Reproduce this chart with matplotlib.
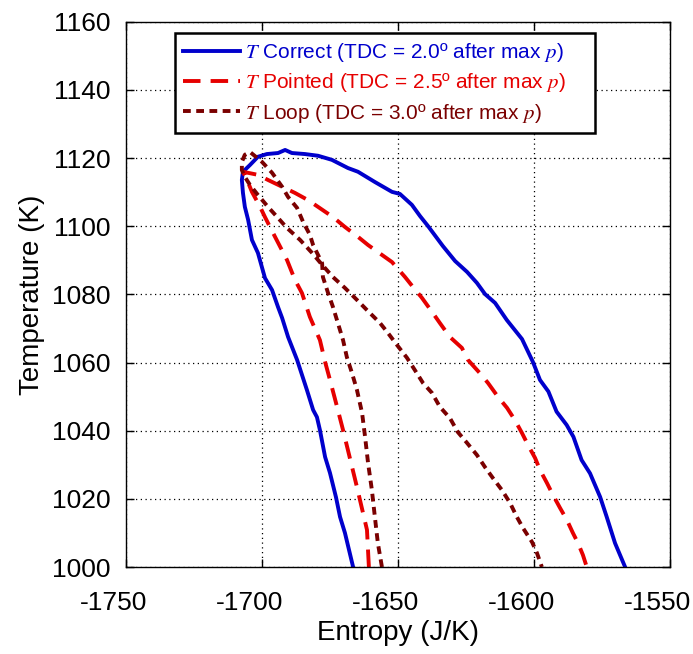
import matplotlib
matplotlib.use('Agg')
from matplotlib import pyplot as plt
from matplotlib.transforms import ScaledTranslation

plt.rcParams['font.family'] = ['Liberation Sans', 'DejaVu Sans']
plt.rcParams['mathtext.fontset'] = 'stix'
plt.rcParams['axes.unicode_minus'] = False

# entropy (J/K) and temperature (K), one loop per case
s_correct = [-1666.5, -1669.5, -1671.3, -1672.8, -1675.0, -1676.8, -1678.7, -1679.8, -1681.2, -1683.5,
             -1687.1, -1690.4, -1692.6, -1694.1, -1696.3, -1698.9, -1701.5, -1703.7, -1705.1, -1706.3,
             -1707.0, -1707.4, -1707.0, -1704.4, -1701.5, -1698.2, -1694.1, -1691.5, -1689.0, -1684.2,
             -1679.4, -1674.3, -1668.4, -1664.7, -1658.5, -1652.2, -1649.3, -1644.9, -1641.9, -1639.0,
             -1633.5, -1629.0, -1624.6, -1621.0, -1618.0, -1614.3, -1610.0, -1604.4, -1600.4, -1597.8,
             -1594.7, -1591.7, -1588.0, -1585.5, -1582.5, -1579.4, -1575.7, -1573.3, -1570.2, -1566.5]
t_correct = [1000.0, 1010.0, 1014.7, 1020.5, 1027.6, 1032.3, 1040.2, 1044.0, 1046.1, 1052.0,
             1060.8, 1067.5, 1073.1, 1076.3, 1081.3, 1084.8, 1092.2, 1096.0, 1101.9, 1105.7,
             1109.8, 1113.6, 1116.0, 1118.0, 1120.4, 1121.2, 1121.5, 1122.4, 1121.5, 1121.2,
             1120.7, 1119.5, 1117.1, 1116.0, 1113.0, 1110.1, 1109.5, 1106.3, 1103.0, 1100.1,
             1094.2, 1089.8, 1086.6, 1083.4, 1080.1, 1077.5, 1072.5, 1066.9, 1060.2, 1054.9,
             1051.5, 1045.6, 1041.7, 1038.2, 1031.4, 1027.5, 1020.6, 1014.8, 1007.0, 1000.0]

s_pointed = [-1660.7, -1661.4, -1665.1, -1668.4, -1670.2, -1672.4, -1675.0, -1676.8, -1678.7, -1682.4,
             -1685.3, -1687.9, -1690.8, -1695.2, -1698.9, -1700.7, -1703.7, -1705.5, -1707.0, -1701.5,
             -1697.8, -1692.6, -1687.9, -1683.1, -1679.4, -1673.9, -1669.5, -1664.7, -1661.0, -1655.9,
             -1652.2, -1647.4, -1644.5, -1641.2, -1637.5, -1634.6, -1630.9, -1626.5, -1624.3, -1619.9,
             -1616.9, -1613.2, -1609.9, -1607.0, -1604.4, -1602.2, -1599.6, -1597.8, -1595.2, -1593.0,
             -1590.4, -1587.9, -1585.7, -1583.8, -1582.0, -1580.6]
t_pointed = [1000.0, 1010.9, 1023.5, 1034.3, 1040.2, 1047.0, 1054.9, 1060.2, 1066.6, 1073.4,
             1080.4, 1084.3, 1090.1, 1096.9, 1102.7, 1105.7, 1110.1, 1113.6, 1116.0, 1115.1,
             1113.6, 1111.6, 1109.8, 1107.7, 1105.7, 1102.7, 1099.8, 1096.9, 1094.5, 1091.6,
             1089.5, 1085.1, 1082.2, 1079.0, 1074.9, 1071.6, 1067.5, 1064.3, 1060.8, 1056.9,
             1054.0, 1049.9, 1046.7, 1043.1, 1039.3, 1035.8, 1032.0, 1028.5, 1024.6, 1021.1,
             1017.3, 1013.8, 1010.0, 1007.0, 1003.5, 1000.0]

s_loop = [-1655.9, -1657.4, -1658.5, -1659.6, -1661.0, -1662.1, -1663.2, -1665.1, -1666.9, -1668.8,
          -1670.2, -1672.1, -1673.9, -1675.7, -1677.6, -1677.9, -1681.2, -1682.4, -1684.9, -1687.1,
          -1690.4, -1692.6, -1696.3, -1700.0, -1704.4, -1706.3, -1707.4, -1707.4, -1706.3, -1704.4,
          -1701.5, -1697.8, -1694.5, -1690.8, -1686.0, -1681.6, -1677.9, -1673.9, -1669.5, -1665.1,
          -1661.4, -1656.6, -1653.7, -1650.4, -1646.7, -1643.8, -1640.8, -1637.5, -1634.6, -1630.9,
          -1628.0, -1624.6, -1621.0, -1618.0, -1615.1, -1611.8, -1608.8, -1606.3, -1604.0, -1600.7,
          -1598.9, -1597.1]
t_loop = [1000.0, 1007.0, 1014.7, 1022.6, 1030.5, 1038.2, 1045.2, 1052.0, 1056.9, 1061.6,
          1066.6, 1071.6, 1076.3, 1080.4, 1085.1, 1089.2, 1094.5, 1097.5, 1101.3, 1105.4,
          1108.6, 1111.6, 1115.7, 1118.9, 1121.8, 1121.0, 1118.9, 1116.5, 1114.5, 1112.1,
          1109.2, 1105.7, 1102.8, 1099.5, 1096.0, 1092.2, 1088.7, 1085.1, 1081.9, 1078.4,
          1075.4, 1071.6, 1068.7, 1065.2, 1061.4, 1057.8, 1054.0, 1051.1, 1047.0, 1043.7,
          1039.6, 1036.4, 1032.9, 1029.3, 1026.1, 1022.6, 1018.8, 1014.7, 1011.4, 1007.3,
          1004.1, 1000.0]

labels = [r'$T$ Correct (TDC = 2.0º after max $p$)',
          r'$T$ Pointed (TDC = 2.5º after max $p$)',
          r'$T$ Loop (TDC = 3.0º after max $p$)']
colors = ['#0000cc', '#e60000', '#7a0000']

x_ticks = [-1750, -1700, -1650, -1600, -1550]
y_ticks = [1000, 1020, 1040, 1060, 1080, 1100, 1120, 1140, 1160]

fig = plt.figure(figsize=(6.93, 6.54), dpi=100)
ax = fig.add_axes([0.1818, 0.133, 0.785, 0.8336])

ax.plot(s_correct, t_correct, color=colors[0], lw=2.8, label=labels[0])
ax.plot(s_pointed, t_pointed, color=colors[1], lw=2.8, dashes=(4.5, 2.6), label=labels[1])
ax.plot(s_loop, t_loop, color=colors[2], lw=2.8, dashes=(2.0, 1.4), label=labels[2])

ax.set_xlim(-1750, -1550)
ax.set_ylim(1000, 1160)
ax.set_xticks(x_ticks)
ax.set_yticks(y_ticks)
ax.tick_params(axis='both', direction='in', length=6, width=1, top=True, right=True, labelsize=19)
ax.tick_params(axis='x', pad=17)
ax.tick_params(axis='y', pad=11)
ax.grid(True, color='black', linestyle=(0, (1, 2.8)), linewidth=0.9)
for spine in ax.spines.values():
    spine.set_linewidth(1.0)

# x tick labels sit a little left of their ticks in the original
shift = ScaledTranslation(-0.12, 0, fig.dpi_scale_trans)
for label in ax.get_xticklabels():
    label.set_transform(label.get_transform() + shift)

ax.set_xlabel('Entropy (J/K)', fontsize=20, labelpad=4)
ax.set_ylabel('Temperature (K)', fontsize=20, labelpad=5)

leg = ax.legend(loc='upper left', bbox_to_anchor=(0.09, 0.0, 0.772, 0.98), mode='expand',
                fontsize=15, handlelength=2.7, handletextpad=0.25, labelspacing=0.35, borderpad=0.4,
                fancybox=False, framealpha=1, edgecolor='black', borderaxespad=0)
leg.get_frame().set_linewidth(1.8)
for text, color in zip(leg.get_texts(), colors):
    text.set_color(color)

fig.savefig('out.png', dpi=100)
